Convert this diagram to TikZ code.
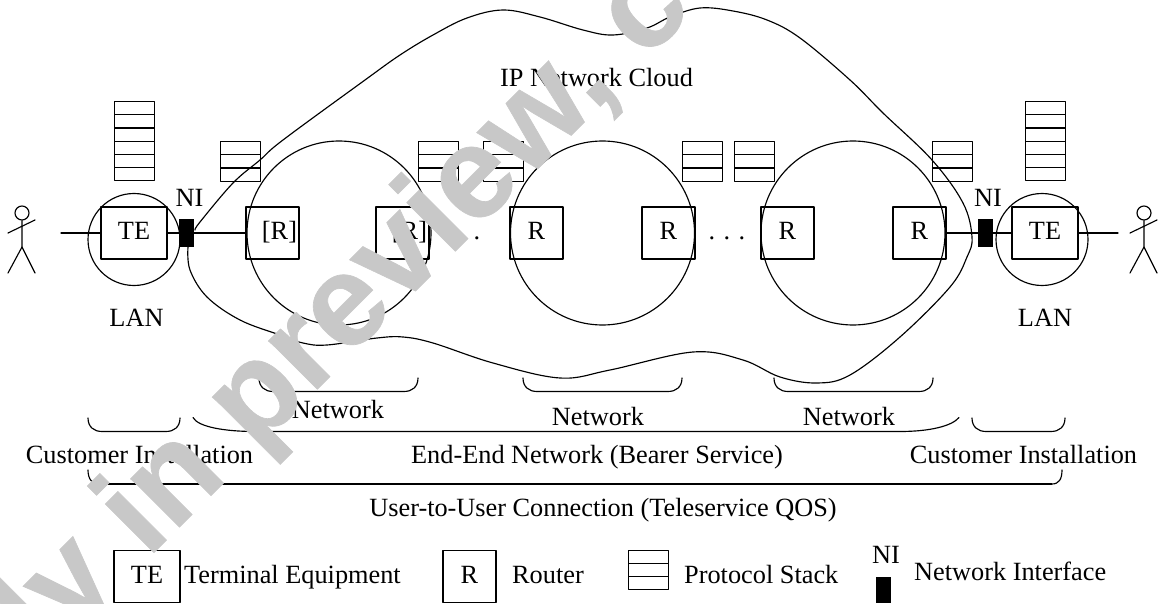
\documentclass[tikz,border=0pt]{standalone}
\usepackage{fontspec}
\setmainfont{Liberation Serif}
\newfontfamily\wmfont[BoldFeatures={FakeBold=0.5}]{Liberation Sans}
\definecolor{wmgray}{HTML}{C8C8C8}
\tikzset{
  ln/.style={line width=1.15pt,line cap=round,line join=round},
  boxte/.style={ln,draw,minimum width=66pt,minimum height=52pt,inner sep=0pt,text height=14pt,text depth=0pt},
  boxr/.style={ln,draw,minimum width=53pt,minimum height=52pt,inner sep=0pt,text height=14pt,text depth=0pt},
  ni/.style={fill=black,draw=none,minimum width=15pt,minimum height=28pt,inner sep=0pt},
  lan/.style={ln,draw,circle,minimum size=92pt,inner sep=0pt},
  net/.style={ln,draw,circle,minimum size=184pt,inner sep=0pt},
  lab/.style={anchor=base,inner sep=0pt},
  labw/.style={anchor=base west,inner sep=0pt},
  stackcell/.style={ln,draw,minimum width=40pt,minimum height=13.2pt,inner sep=0pt,anchor=north west},
}
\newcommand{\stackof}[4]{% name, x, top y, cells
  \foreach \k in {1,...,#4}{
    \node[stackcell] (#1c\k) at (#2,{#3+(\k-1)*13.2}) {};
  }
}
\newcommand{\bracketof}[3]{% x1, x2, y
  \draw[ln] (#1,#3) .. controls (#1,{#3+9}) and ({#1+6},{#3+13.5}) .. ({#1+14},{#3+13.5})
    -- ({#2-14},{#3+13.5}) .. controls ({#2-6},{#3+13.5}) and (#2,{#3+9}) .. (#2,#3);
}
\newcommand{\personat}[2]{% name, head x
  \node[ln,draw,circle,minimum size=14pt,inner sep=0pt] (#1) at (#2,213) {};
  \draw[ln] (#1.south) -- (#2,247) -- ({#2-14},273);
  \draw[ln] (#2,247) -- ({#2+13},273);
  \draw[ln] ({#2-14},233) -- ({#2+13},220);
}
\begin{document}
\begin{tikzpicture}[x=1pt,y=-1pt,font=\fontsize{26.3pt}{30pt}\selectfont]
\useasboundingbox (0,0) rectangle (1159,604);
\clip (0,0) rectangle (1159,604);
% people
\personat{pl}{22}
\personat{pr}{1144}
\coordinate (pla) at (61,233);
\coordinate (pra) at (1118,233);
% LANs and terminals
\node[lan] (lanl) at (134,239.5) {};
\node[lan] (lanr) at (1042,239.5) {};
\node[boxte] (tel) at (134,233) {TE};
\node[boxte] (ter) at (1045,233) {TE};
\node[ni] (nil) at (186.5,233) {};
\node[ni] (nir) at (985.5,233) {};
% networks
\node[net] (n1) at (339,233) {};
\node[net] (n2) at (602.5,233) {};
\node[net] (n3) at (853,233) {};
% routers
\node[boxr] (r1) at (272.5,233) {\kern14pt[R]};
\node[boxr] (r2) at (402.5,233) {\kern14pt[R]};
\node[boxr] (r3) at (536.5,233) {R};
\node[boxr] (r4) at (668.5,233) {R};
\node[boxr] (r5) at (787.5,233) {R};
\node[boxr] (r6) at (919.5,233) {R};
% links
\draw[ln] (pla) -- (tel.west);
\draw[ln] (tel.east) -- (nil.west);
\draw[ln] (nil.east) -- (r1.west);
\draw[ln] (r6.east) -- (nir.west);
\draw[ln] (nir.east) -- (ter.west);
\draw[ln] (ter.east) -- (pra);
% stacks
\stackof{sa}{114}{101}{6}
\stackof{sb}{220}{141}{3}
\stackof{sc}{417.5}{141}{3}
\stackof{sd}{483}{141}{3}
\stackof{se}{681.5}{141}{3}
\stackof{sf}{734}{141}{3}
\stackof{sg}{932}{141}{3}
\stackof{sh}{1025}{101}{6}
% cloud
\draw[ln] plot[smooth,tension=0.6] coordinates {
 (195,230) (200,222) (233,183) (260,160) (283,140) (365,80) (400,55) (433,35) (467,18) (503,10)
 (540,17) (583,30) (613,35) (647,28) (670,17) (700,8) (733,11) (767,20) (800,38) (850,80)
 (883,113) (932,160) (963,203) (972,237) (967,257) (950,287) (900,337) (850,375) (817,383)
 (780,377) (743,360) (693,352) (610,370) (560,378) (493,363) (433,343) (403,337) (377,338)
 (327,345) (303,343) (280,335) (240,320) (207,297) (190,270) (188,247)};
% labels
\node[lab] (lni1) at (189.5,207) {NI};
\node[lab] (lni2) at (988,207) {NI};
\node[lab] (llan1) at (136.5,326) {LAN};
\node[lab] (llan2) at (1045,326) {LAN};
\node[lab] (lcloud) at (596.5,87) {IP Network Cloud};
\node[lab] (ldots1) at (462,240) {.\kern8.4pt.\kern8.4pt.};
\node[lab] (ldots2) at (727,240) {.\kern8.4pt.\kern8.4pt.};
% brackets
\bracketof{259}{418}{378}
\bracketof{523}{682}{378}
\bracketof{774}{933}{378}
\bracketof{88}{180}{418}
\bracketof{972}{1065}{418}
\draw[ln] (193,417.5) .. controls (198,427) and (225,431.5) .. (255,431.5) -- (900,431.5)
  .. controls (930,431.5) and (952,426) .. (959,417.5);
\draw[ln] (88,470) .. controls (88,479) and (92,484) .. (99,484);
\draw[line width=1.7pt] (99,484) -- (1052,484);
\draw[ln] (1052,484) .. controls (1059,484) and (1062,479) .. (1062,470);
\node[lab] (lnet1) at (338,418) {Network};
\node[lab] (lnet2) at (598,425) {Network};
\node[lab] (lnet3) at (849,425) {Network};
\node[lab] (lci1) at (139.5,463) {Customer Installation};
\node[lab] (lee) at (597,463) {End-End Network (Bearer Service)};
\node[lab] (lci2) at (1023.5,463) {Customer Installation};
\node[lab] (luser) at (603,516) {User-to-User Connection (Teleservice QOS)};
% legend
\node[boxte] (kte) at (147,576.5) {TE};
\node[labw] (ktet) at (184,583) {Terminal Equipment};
\node[boxr] (kr) at (469.5,576.5) {R};
\node[labw] (krt) at (512,583) {Router};
\stackof{ks}{628}{549.5}{3}
\node[labw] (kst) at (684,583) {Protocol Stack};
\node[lab] (kni) at (886,563) {NI};
\node[ni,minimum height=26pt] (knib) at (883.5,590) {};
\node[labw] (knit) at (914,580) {Network Interface};
% overprinted band
\node[text=wmgray,rotate=45,inner sep=0pt] (wm) at (283,376)
  {\wmfont\bfseries\fontsize{130pt}{130pt}\selectfont Only in preview, c};
\end{tikzpicture}
\end{document}
